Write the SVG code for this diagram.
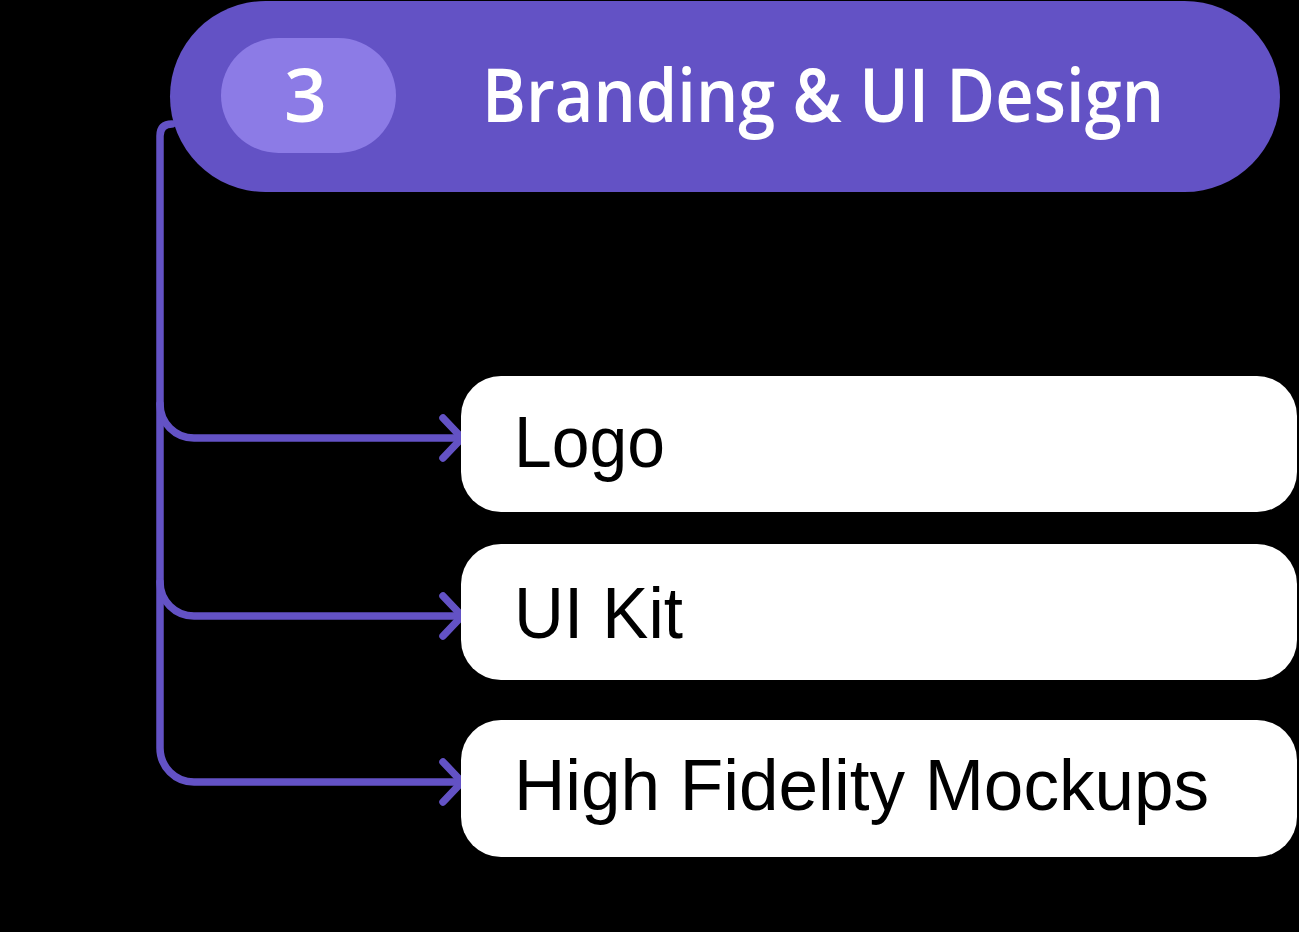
<svg xmlns="http://www.w3.org/2000/svg" width="1299" height="932" viewBox="0 0 1299 932">
  <style>
    .conn { fill: none; stroke: #6352C5; stroke-width: 7.5; stroke-linecap: round; stroke-linejoin: round; }
    .pill { fill: #ffffff; }
    .label { font-family: "Liberation Sans", Arial, sans-serif; font-size: 72px; fill: #000000; }
    .head { font-family: "Open Sans", "Liberation Sans", Arial, sans-serif; font-weight: 600; font-size: 75px; fill: #ffffff; }
  </style>
  <rect x="0" y="0" width="1299" height="932" fill="#000000"/>
  <g id="connectors">
    <path class="conn" d="M 172 124 Q 160 124 160 136 V 748 A 34 34 0 0 0 194 782 H 460"/>
    <path class="conn" d="M 160 404 A 34 34 0 0 0 194 438 H 460"/>
    <path class="conn" d="M 160 582 A 34 34 0 0 0 194 616 H 460"/>
    <path class="conn" d="M 443 418 L 462 438 L 443 458"/>
    <path class="conn" d="M 443 596 L 462 616 L 443 636"/>
    <path class="conn" d="M 443 762 L 462 782 L 443 802"/>
  </g>
  <g id="header">
    <rect x="170" y="1" width="1110" height="191" rx="95.5" fill="#6352C5"/>
    <rect x="221" y="38" width="175" height="115" rx="57.5" fill="#8C7BE6"/>
    <text class="head" x="305.5" y="122" text-anchor="middle">3</text>
    <text class="head" x="482" y="122" textLength="682" lengthAdjust="spacingAndGlyphs">Branding &amp; UI Design</text>
  </g>
  <g id="node-logo">
    <rect class="pill" x="461" y="376" width="836" height="136" rx="40"/>
    <text class="label" x="514" y="467" textLength="151" lengthAdjust="spacingAndGlyphs">Logo</text>
  </g>
  <g id="node-uikit">
    <rect class="pill" x="461" y="544" width="836" height="136" rx="40"/>
    <text class="label" x="514" y="638" textLength="169" lengthAdjust="spacingAndGlyphs">UI Kit</text>
  </g>
  <g id="node-hifi">
    <rect class="pill" x="461" y="720" width="836" height="137" rx="40"/>
    <text class="label" x="514" y="810" textLength="695" lengthAdjust="spacingAndGlyphs">High Fidelity Mockups</text>
  </g>
</svg>
